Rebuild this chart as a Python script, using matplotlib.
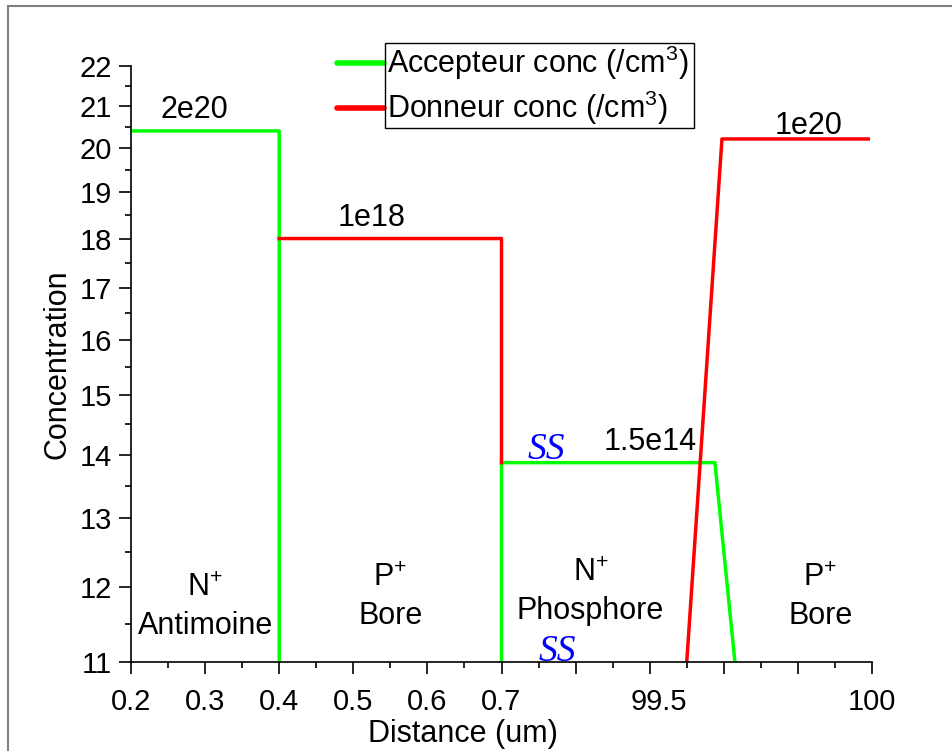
import numpy as np
import matplotlib
matplotlib.use('Agg')
import matplotlib.pyplot as plt
from matplotlib.patches import Rectangle
from matplotlib.ticker import FixedLocator, FixedFormatter, NullFormatter

plt.rcParams['font.family'] = ['Liberation Sans', 'DejaVu Sans']
plt.rcParams['mathtext.fontset'] = 'custom'
plt.rcParams['mathtext.rm'] = 'Liberation Sans'
plt.rcParams['mathtext.it'] = 'Liberation Sans:italic'

# data (distance in um, concentration as log10 exponent)
acc_x = [0.2, 0.4, 0.4, np.nan, 0.7, 0.7, 99.576, 99.63]
acc_y = [20.4, 20.4, 11, np.nan, 11, 13.87, 13.87, 11]
don_x = [0.4, 0.7, 0.7, np.nan, 99.5, 99.595, 99.99]
don_y = [18, 18, 13.87, np.nan, 11, 20.21, 20.21]

major_x = [0.2, 0.3, 0.4, 0.5, 0.6, 0.7, 99.2, 99.4, 99.6, 99.8, 100.0]
major_lbl = ['0.2', '0.3', '0.4', '0.5', '0.6', '0.7', '', '', '', '', '100']
minor_x = [0.25, 0.35, 0.45, 0.55, 0.65, 99.1, 99.3, 99.5, 99.7, 99.9]
minor_lbl = ['', '', '', '', '', '', '', '99.5', '', '']
yticks = list(range(11, 23))

notes = [('2e20', 0.286, 20.9), ('1e18', 0.525, 18.44),
         ('1.5e14', 99.4, 14.21), ('1e20', 99.83, 20.52)]
regions = [('N$^{+}$\nAntimoine', 0.3, 11.73), ('P$^{+}$\nBore', 0.55, 11.86),
           ('N$^{+}$\nPhosphore', 99.24, 11.93), ('P$^{+}$\nBore', 99.86, 11.87)]


def fwd(x):
    x = np.asarray(x, dtype=float)
    return np.where(x <= 0.7, x, np.where(x < 99, 0.7, 0.7 + (x - 99) * 0.5))


def inv(p):
    p = np.asarray(p, dtype=float)
    return np.where(p <= 0.7, p, 99 + (p - 0.7) * 2)


fig = plt.figure(figsize=(9.52, 7.51), dpi=100)
ax = fig.add_axes([131/952, 1-662/751, (872-131)/952, (662-66)/751])

ax.plot(acc_x, acc_y, color='#00ff00', lw=2.5, label='Accepteur conc (/cm$^{3}$)')
ax.plot(don_x, don_y, color='#ff0000', lw=2.5, label='Donneur conc (/cm$^{3}$)')

ax.set_xscale('function', functions=(fwd, inv))
ax.set_yscale('log')
ax.set_xlim(0.2, 100)
ax.set_ylim(11, 22)

ax.xaxis.set_major_locator(FixedLocator(major_x))
ax.xaxis.set_major_formatter(FixedFormatter(major_lbl))
ax.xaxis.set_minor_locator(FixedLocator(minor_x))
ax.xaxis.set_minor_formatter(FixedFormatter(minor_lbl))
ax.yaxis.set_major_locator(FixedLocator(yticks))
ax.yaxis.set_major_formatter(FixedFormatter([str(v) for v in yticks]))
ax.yaxis.set_minor_locator(FixedLocator([v + 0.5 for v in yticks[:-1]]))
ax.yaxis.set_minor_formatter(NullFormatter())

for s in ['top', 'right']:
    ax.spines[s].set_visible(False)
for s in ['left', 'bottom']:
    ax.spines[s].set_linewidth(1.2)
ax.tick_params(which='major', length=8.5, width=1.2, labelsize=21, pad=5)
ax.tick_params(which='minor', length=4.5, width=1.2, labelsize=21, pad=5)
ax.tick_params(axis='x', which='major', pad=10)
ax.tick_params(axis='x', which='minor', pad=14)
for lbl in ax.xaxis.get_minorticklabels():
    lbl.set_horizontalalignment('right')

ax.set_xlabel('Distance (um)', fontsize=22)
ax.xaxis.set_label_coords((463-131)/741, -(719-662)/596)
ax.set_ylabel('Concentration', fontsize=22)
ax.yaxis.set_label_coords(-(131-73)/741, 0.5)

for t, x, y in notes:
    ax.text(x, y, t, fontsize=22, ha='center', va='center')
for t, x, y in regions:
    ax.text(x, y, t, fontsize=22, ha='center', va='center', linespacing=1.35)

ss_kw = dict(color='#0000ff', fontsize=27, style='italic',
             family='Liberation Serif', ha='center', va='center')
ax.text(99.12, 14.08, 'SS', **ss_kw)
ax.text(99.15, 11.13, 'SS', **ss_kw)

leg = ax.legend(loc='upper left', bbox_to_anchor=(337/952, 1-44/751),
                bbox_transform=fig.transFigure, frameon=False, fontsize=22,
                handlelength=1.55, handletextpad=0.08, borderpad=0,
                borderaxespad=0, labelspacing=0.22)
for h in leg.get_lines():
    h.set_linewidth(4)
    h.set_solid_capstyle('round')

fig.canvas.draw()
r = fig.canvas.get_renderer()
bbs = [t.get_window_extent(r) for t in leg.get_texts()]
x0 = min(b.x0 for b in bbs) - 2
x1 = max(b.x1 for b in bbs) + 6
y0 = min(b.y0 for b in bbs) - 1
y1 = max(b.y1 for b in bbs) + 1
W, H = fig.bbox.width, fig.bbox.height
fig.patches.append(Rectangle((x0/W, y0/H), (x1-x0)/W, (y1-y0)/H, fill=False,
                             lw=1, ec='black', transform=fig.transFigure))

# outer frame
fig.patches.append(Rectangle((8/952, -0.1), 1.2, 1.1 - 6/751, fill=False,
                             lw=1.5, ec='#808080', transform=fig.transFigure))

plt.savefig('out.png', dpi=100)
